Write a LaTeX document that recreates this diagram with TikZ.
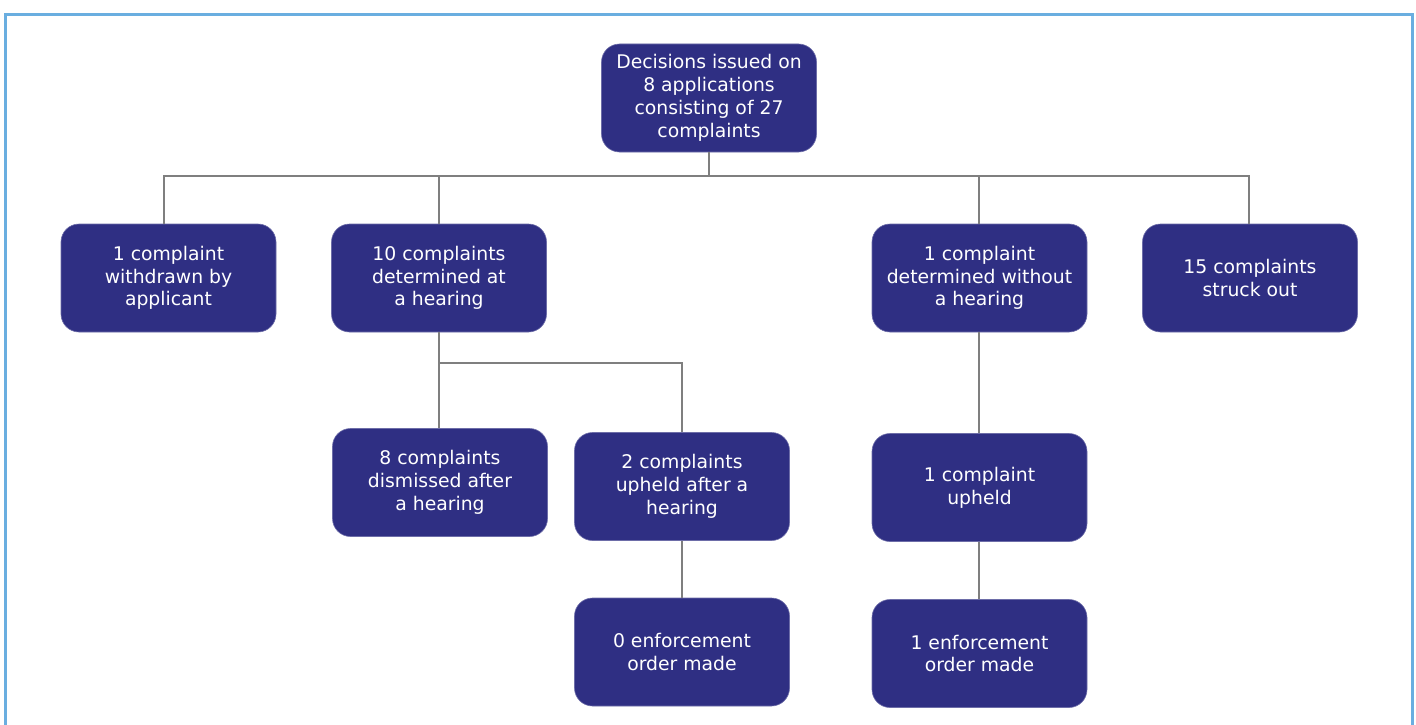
\documentclass[tikz,border=0pt]{standalone}
\usepackage{fontspec}
\setmainfont{DejaVu Sans}
\definecolor{boxblue}{HTML}{2F2F83}
\definecolor{linegray}{HTML}{7F7F7F}
\definecolor{frameblue}{HTML}{6AAEE0}
\begin{document}
\begin{tikzpicture}[x=1pt,y=-1pt,
  box/.style={draw=boxblue!70!white, line width=0.6pt, fill=boxblue, rounded corners=18pt,
    minimum width=215pt, minimum height=108pt, inner sep=0pt,
    text=white, align=center, font=\fontsize{18.8}{22.8}\selectfont},
  conn/.style={draw=linegray, line width=2.8pt}]
\useasboundingbox (0,0) rectangle (1416,725);
\begin{scope}
\clip (0,0) rectangle (1416,725);
\draw[frameblue, line width=3pt] (5.5,740) -- (5.5,14.5) -- (1412.5,14.5) -- (1412.5,740);
\end{scope}

\node[box] (top) at (709,98) {Decisions issued on\\8 applications\\consisting of 27\\complaints};
\node[box] (a) at (168.5,278) {1 complaint\\withdrawn by\\applicant};
\node[box] (b) at (439,278) {10 complaints\\determined at\\a hearing};
\node[box] (c) at (979.5,278) {1 complaint\\determined without\\a hearing};
\node[box] (d) at (1250,278) {15 complaints\\struck out};
\node[box] (e) at (440,482.5) {8 complaints\\dismissed after\\a hearing};
\node[box] (f) at (682,486.5) {2 complaints\\upheld after a\\hearing};
\node[box] (g) at (979.5,487.5) {1 complaint\\upheld};
\node[box] (h) at (682,652) {0 enforcement\\order made};
\node[box] (i) at (979.5,653.5) {1 enforcement\\order made};

\coordinate (bus1) at (709,176);
\coordinate (bus2) at (439,363);
\coordinate (aTop) at (164,224);
\coordinate (bTop) at (439,224);
\coordinate (cTop) at (979,224);
\coordinate (dTop) at (1249,224);

\draw[conn] (top.south) -- (bus1);
\draw[conn] (bus1) -| (aTop);
\draw[conn] (bus1) -| (bTop);
\draw[conn] (bus1) -| (cTop);
\draw[conn] (bus1) -| (dTop);
\draw[conn] (b.south) -- (bus2);
\draw[conn] (bus2) -- (bus2 |- e.north);
\draw[conn] (bus2) -| (f.north);
\draw[conn] (c.south -| cTop) -- (g.north -| cTop);
\draw[conn] (f.south) -- (h.north);
\draw[conn] (g.south -| cTop) -- (i.north -| cTop);
\end{tikzpicture}
\end{document}
